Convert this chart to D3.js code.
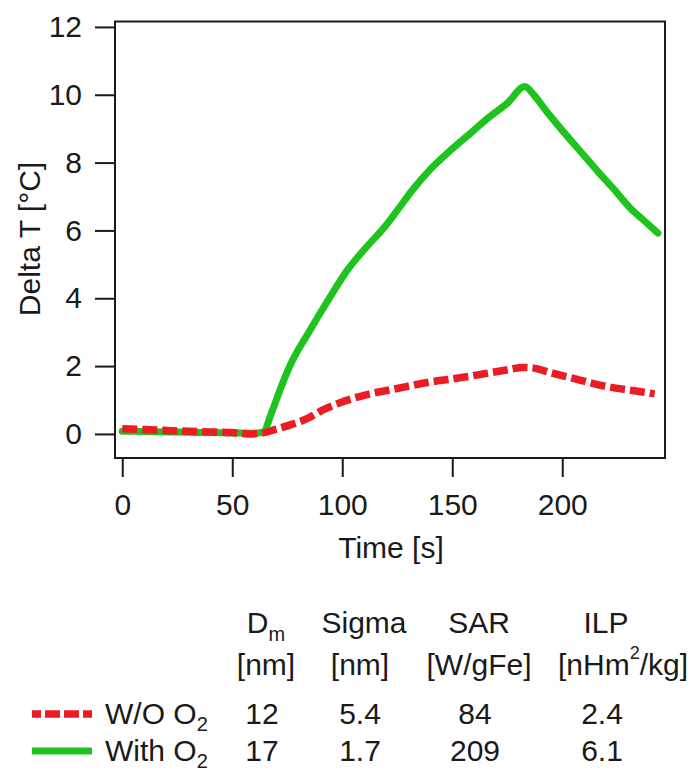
<!DOCTYPE html>
<html>
<head>
<meta charset="utf-8">
<script src="https://cdn.jsdelivr.net/npm/d3@7"></script>
<style>
  body { margin: 0; background: #fff; }
  .chart { width: 690px; height: 773px; }
  text { font-family: "Liberation Sans", Arial, sans-serif; fill: #1a1a1a; }
  .axis text { font-size: 30px; }
  .axis line { stroke: #1a1a1a; stroke-width: 2; }
</style>
</head>
<body>
<div class="chart"></div>
<script>
// time in seconds, delta T in degC
const timeWithO2 = [0, 10, 20, 30, 40, 50, 60, 64, 68, 72, 76, 85, 94.5, 102, 111, 120, 125, 132, 140, 149, 158, 166, 175, 183, 187, 193, 200, 208, 216, 223, 231, 237, 243.5];
const deltaWithO2 = [0.08, 0.07, 0.06, 0.05, 0.04, 0.03, 0.02, 0.05, 0.65, 1.35, 1.98, 3.02, 4.04, 4.8, 5.51, 6.16, 6.59, 7.2, 7.8, 8.35, 8.85, 9.3, 9.75, 10.24, 10.0, 9.5, 8.95, 8.35, 7.75, 7.25, 6.65, 6.3, 5.92];

const timeWithoutO2 = [0, 10, 20, 30, 40, 50, 57, 63, 70, 77, 84, 91, 99, 110, 125, 138, 152, 167, 176, 182, 186, 195, 205, 220, 232, 242];
const deltaWithoutO2 = [0.15, 0.13, 0.1, 0.08, 0.06, 0.04, 0.0, 0.02, 0.14, 0.28, 0.45, 0.7, 0.92, 1.14, 1.34, 1.51, 1.64, 1.8, 1.9, 1.96, 1.95, 1.8, 1.64, 1.4, 1.28, 1.18];

const xTicks = [0, 50, 100, 150, 200];
const yTicks = [0, 2, 4, 6, 8, 10, 12];

const seriesNames = ['W/O O', 'With O'];
const seriesColors = ['#ec1c24', '#1ec31e'];
const colHeaders = ['D', 'Sigma', 'SAR', 'ILP'];
const colUnits = ['[nm]', '[nm]', '[W/gFe]', '[nHm'];
const rowValues = [['12', '5.4', '84', '2.4'], ['17', '1.7', '209', '6.1']];

const width = d3.select('.chart').node().clientWidth;
const height = d3.select('.chart').node().clientHeight;

let svg = d3.select('.chart')
    .append('svg')
    .attr('width', width)
    .attr('height', height);

const x = d3.scaleLinear().domain([-3.3, 246.7]).range([115, 665]);
const y = d3.scaleLinear().domain([-0.71, 12.16]).range([458, 21.5]);

// axes
svg.append('g')
    .attr('class', 'axis')
    .attr('transform', 'translate(115,0)')
    .call(d3.axisLeft(y).tickValues(yTicks).tickSize(20).tickPadding(13).tickFormat(d3.format('d')))
    .call(g => g.select('.domain').remove());

svg.append('g')
    .attr('class', 'axis')
    .attr('transform', 'translate(0,458)')
    .call(d3.axisBottom(x).tickValues(xTicks).tickSize(19).tickPadding(17).tickFormat(d3.format('d')))
    .call(g => g.select('.domain').remove());

// frame
svg.append('rect')
    .attr('x', x.range()[0])
    .attr('y', y.range()[1])
    .attr('width', x.range()[1] - x.range()[0])
    .attr('height', y.range()[0] - y.range()[1])
    .attr('fill', 'none')
    .style('stroke', '#1a1a1a')
    .style('stroke-width', 2);

// curves
const line = d3.line()
    .curve(d3.curveMonotoneX)
    .x(d => x(d[0]))
    .y(d => y(d[1]));

svg.append('path')
    .datum(d3.zip(timeWithO2, deltaWithO2))
    .attr('d', line)
    .attr('fill', 'none')
    .style('stroke', seriesColors[1])
    .style('stroke-width', 7)
    .style('stroke-linejoin', 'round')
    .style('stroke-linecap', 'round');

svg.append('path')
    .datum(d3.zip(timeWithoutO2, deltaWithoutO2))
    .attr('d', line)
    .attr('fill', 'none')
    .style('stroke', seriesColors[0])
    .style('stroke-width', 7.5)
    .style('stroke-dasharray', '15,5');

// axis titles
svg.append('text')
    .attr('x', 391)
    .attr('y', 558)
    .attr('text-anchor', 'middle')
    .style('font-size', '30px')
    .text('Time [s]');

svg.append('text')
    .attr('transform', 'translate(40,239) rotate(-90)')
    .attr('text-anchor', 'middle')
    .style('font-size', '30px')
    .text('Delta T [°C]');

// table with legend
const colX = [266, 364, 479, 606];

colHeaders.forEach((h, i) => {
    let t = svg.append('text')
        .attr('x', colX[i])
        .attr('y', 633)
        .attr('text-anchor', 'middle')
        .style('font-size', '30px')
        .text(h);
    if (i == 0) {
        t.append('tspan').attr('dy', 8).style('font-size', '20px').text('m');
    }
});

colUnits.forEach((u, i) => {
    let t = svg.append('text')
        .attr('x', i == 3 ? 623 : colX[i] + (i == 1 ? -4 : 0))
        .attr('y', 675)
        .attr('text-anchor', 'middle')
        .style('font-size', '30px')
        .text(u);
    if (i == 3) {
        t.append('tspan').attr('dy', -16).style('font-size', '18px').text('2');
        t.append('tspan').attr('dy', 16).text('/kg]');
    }
});

const rowY = [724, 761];

rowValues.forEach((row, r) => {
    svg.append('line')
        .attr('x1', 32)
        .attr('x2', 92)
        .attr('y1', rowY[r] - 10)
        .attr('y2', rowY[r] - 10)
        .style('stroke', seriesColors[r])
        .style('stroke-width', r == 0 ? 7.5 : 7)
        .style('stroke-dasharray', r == 0 ? '9,4,15,4,15,4,9' : null);

    svg.append('text')
        .attr('x', 105)
        .attr('y', rowY[r])
        .style('font-size', '30px')
        .text(seriesNames[r])
        .append('tspan')
        .attr('dy', 7)
        .style('font-size', '20px')
        .text('2');

    row.forEach((v, i) => {
        svg.append('text')
            .attr('x', colX[i] - 4)
            .attr('y', rowY[r])
            .attr('text-anchor', 'middle')
            .style('font-size', '30px')
            .text(v);
    });
});
</script>
</body>
</html>
